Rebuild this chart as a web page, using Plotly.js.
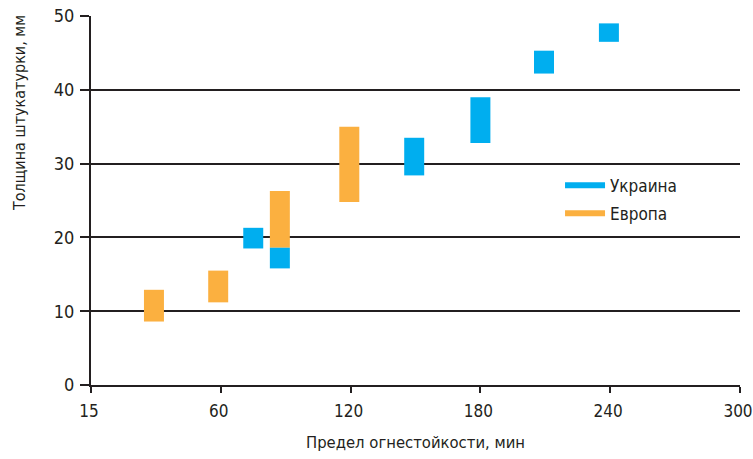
<!DOCTYPE html>
<html>
<head>
<meta charset="utf-8">
<script src="https://cdn.plot.ly/plotly-3.0.1.min.js"></script>
<style>html,body{margin:0;padding:0;background:#fff;}#chart{width:753px;height:459px;}</style>
</head>
<body>
<div id="chart"></div>
<script>
// Axis tick labels (fire resistance, min) placed at equally spaced positions 0..5
const tickPositions = [0, 1, 2, 3, 4, 5];
const tickLabels = ['15', '60', '120', '180', '240', '300'];

// Европа (Europe): position on the axis, lower and upper plaster thickness, mm
const europePos = [0.485, 0.98, 1.455, 1.99];
const europeLow = [8.6, 11.2, 18.6, 24.8];
const europeHigh = [12.9, 15.5, 26.3, 35.0];

// Украина (Ukraine)
const ukrainePos = [1.25, 1.455, 2.49, 3.0, 3.49, 3.99];
const ukraineLow = [18.5, 15.8, 28.4, 32.8, 42.2, 46.5];
const ukraineHigh = [21.3, 18.6, 33.5, 39.0, 45.3, 49.0];

const BLUE = '#00aeef';
const ORANGE = '#fbb040';
const INK = '#231f20';
const FONT = '"Liberation Sans Narrow", "DejaVu Sans Condensed", sans-serif';
const barW = 0.154;

const span = (lo, hi) => hi.map((h, i) => h - lo[i]);

const traces = [
  {type: 'bar', x: europePos, base: europeLow, y: span(europeLow, europeHigh), width: barW,
   marker: {color: ORANGE, line: {width: 0}}, showlegend: false, hoverinfo: 'skip'},
  {type: 'bar', x: ukrainePos, base: ukraineLow, y: span(ukraineLow, ukraineHigh), width: barW,
   marker: {color: BLUE, line: {width: 0}}, showlegend: false, hoverinfo: 'skip'},
  {type: 'scatter', mode: 'lines', x: [null], y: [null], name: 'Украина', legendgroup: 'ua',
   line: {color: BLUE, width: 6}},
  {type: 'scatter', mode: 'lines', x: [null], y: [null], name: 'Европа', legendgroup: 'eu',
   line: {color: ORANGE, width: 6}}
];

const layout = {
  width: 753, height: 459,
  margin: {l: 91, r: 13, t: 16, b: 74},
  paper_bgcolor: '#fff', plot_bgcolor: '#fff',
  font: {family: FONT, size: 18, color: INK},
  barmode: 'overlay',
  showlegend: true,
  legend: {x: 0.7227, y: 0.5892, xanchor: 'left', yanchor: 'top',
           font: {family: FONT, size: 17, color: INK}, bgcolor: 'rgba(0,0,0,0)',
           traceorder: 'grouped', tracegroupgap: 3, itemwidth: 40},
  xaxis: {range: [0, 5], tickvals: tickPositions, ticktext: tickLabels,
          showgrid: false, zeroline: false, showline: true, linecolor: INK, linewidth: 2,
          ticks: 'outside', ticklen: 6, tickwidth: 2, tickcolor: INK,
          ticklabeloverflow: 'allow', ticklabelshift: -2, ticklabelstandoff: 4,
          tickfont: {family: FONT, size: 17, color: INK},
          title: {text: 'Предел огнестойкости, мин', standoff: 16,
                  font: {family: FONT, size: 16.5, color: INK}}},
  yaxis: {range: [0, 50], dtick: 10, showgrid: true, gridcolor: INK, gridwidth: 2,
          zeroline: false, showline: true, linecolor: INK, linewidth: 2,
          ticks: 'outside', ticklen: 9, tickwidth: 2, tickcolor: INK,
          ticklabelstandoff: 2,
          tickfont: {family: FONT, size: 18, color: INK}},
  annotations: [{text: 'Толщина штукатурки, мм', xref: 'paper', yref: 'paper',
                 x: -0.111, y: 0.737, xanchor: 'center', yanchor: 'middle',
                 textangle: -90, showarrow: false,
                 font: {family: FONT, size: 16, color: INK}}]
};

Plotly.newPlot('chart', traces, layout, {displayModeBar: false, staticPlot: true});
</script>
</body>
</html>
